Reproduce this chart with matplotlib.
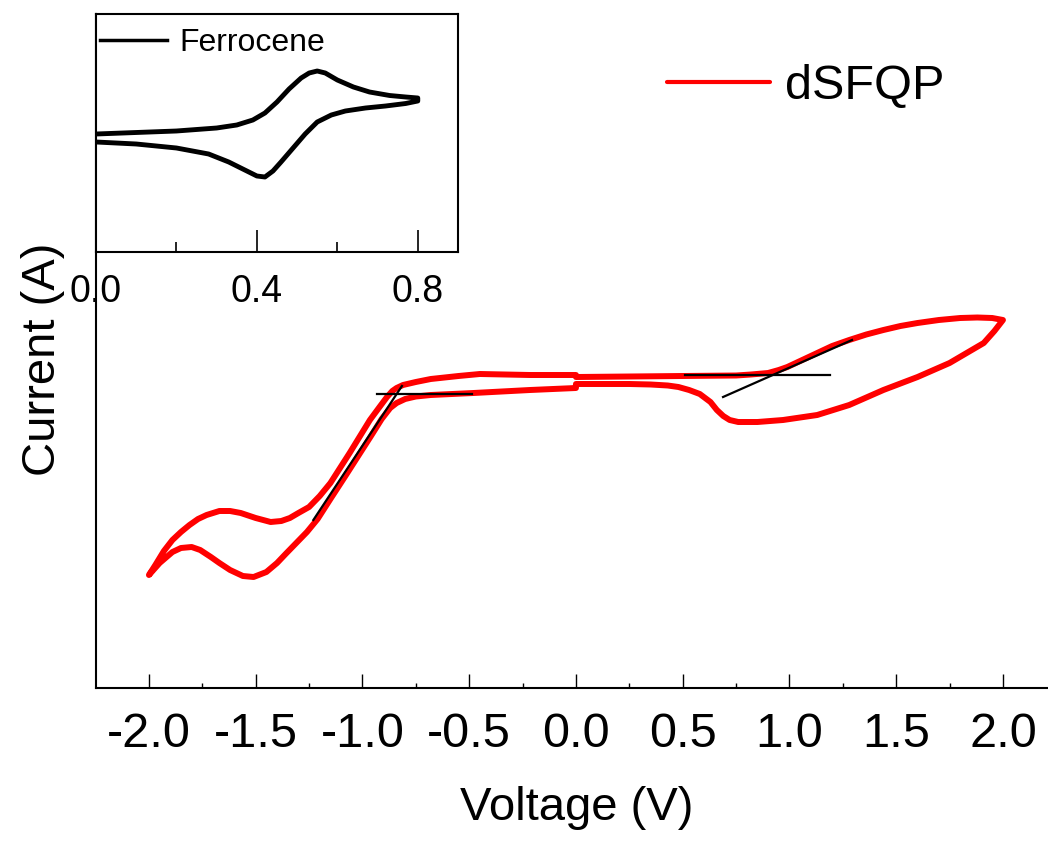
import matplotlib
matplotlib.use("Agg")
import matplotlib.pyplot as plt
from matplotlib.ticker import MultipleLocator

plt.rcParams['font.family'] = ['Liberation Sans', 'DejaVu Sans']

# dSFQP cyclic voltammogram (current in arbitrary units)
# 0 -> +2 V
v_fwd = [0.0, 0.25, 0.5, 0.75, 0.82, 0.9, 0.95, 0.99, 1.05, 1.13, 1.20, 1.28, 1.36, 1.44,
         1.52, 1.60, 1.70, 1.80, 1.88, 1.95, 2.0]
i_fwd = [0.03, 0.035, 0.04, 0.045, 0.055, 0.07, 0.10, 0.13, 0.19, 0.27, 0.34, 0.40, 0.455, 0.50,
         0.54, 0.57, 0.60, 0.62, 0.625, 0.62, 0.60]
# +2 -> 0 V
v_back = [1.96, 1.91, 1.83, 1.75, 1.60, 1.44, 1.28, 1.13, 0.97, 0.85, 0.76, 0.72, 0.69, 0.66,
          0.63, 0.58, 0.53, 0.48, 0.43, 0.35, 0.25, 0.11, 0.0]
i_back = [0.49, 0.37, 0.27, 0.17, 0.03, -0.10, -0.25, -0.35, -0.40, -0.42, -0.42, -0.40, -0.36, -0.30,
          -0.22, -0.14, -0.10, -0.07, -0.055, -0.045, -0.04, -0.04, -0.04]
# 0 -> -2 V
v_neg = [0.0, -0.215, -0.48, -0.68, -0.75, -0.80, -0.84, -0.87, -0.91, -0.96, -1.02, -1.08, -1.15,
         -1.21, -1.26, -1.31, -1.36, -1.40, -1.45, -1.51, -1.56, -1.62, -1.67, -1.71, -1.76, -1.80,
         -1.85, -1.89, -1.95, -2.0]
i_neg = [-0.08, -0.10, -0.13, -0.15, -0.165, -0.19, -0.23, -0.28, -0.39, -0.56, -0.76, -0.96, -1.19,
         -1.39, -1.52, -1.63, -1.74, -1.83, -1.92, -1.97, -1.96, -1.90, -1.83, -1.77, -1.70, -1.67,
         -1.68, -1.72, -1.83, -1.95]
# -2 -> 0 V
v_ret = [-1.97, -1.93, -1.89, -1.85, -1.81, -1.77, -1.73, -1.67, -1.62, -1.57, -1.50, -1.43, -1.38,
         -1.34, -1.30, -1.25, -1.20, -1.15, -1.06, -0.965, -0.92, -0.885, -0.86, -0.84, -0.81, -0.75,
         -0.68, -0.55, -0.45, -0.215, 0.0]
i_ret = [-1.85, -1.71, -1.60, -1.52, -1.45, -1.39, -1.35, -1.31, -1.31, -1.33, -1.38, -1.42, -1.41,
         -1.38, -1.33, -1.27, -1.16, -1.03, -0.73, -0.40, -0.27, -0.17, -0.11, -0.08, -0.05, -0.02,
         0.01, 0.04, 0.06, 0.05, 0.05]

# onset construction lines
red_base_v = [-0.933, -0.487]
red_base_i = [-0.14, -0.14]
red_tan_v = [-1.23, -0.815]
red_tan_i = [-1.40, -0.06]
ox_base_v = [0.51, 1.19]
ox_base_i = [0.05, 0.05]
ox_tan_v = [0.689, 1.293]
ox_tan_i = [-0.17, 0.40]

# ferrocene reference (inset)
fc_v_fwd = [0.0, 0.1, 0.2, 0.3, 0.35, 0.39, 0.42, 0.45, 0.48, 0.51, 0.53, 0.55, 0.57, 0.60,
            0.64, 0.68, 0.73, 0.77, 0.80]
fc_i_fwd = [0.06, 0.075, 0.09, 0.12, 0.15, 0.20, 0.27, 0.38, 0.51, 0.62, 0.67, 0.69, 0.67, 0.60,
            0.53, 0.48, 0.445, 0.43, 0.42]
fc_v_back = [0.80, 0.77, 0.72, 0.67, 0.62, 0.585, 0.55, 0.52, 0.49, 0.46, 0.44, 0.42, 0.40,
             0.37, 0.33, 0.28, 0.2, 0.1, 0.0]
fc_i_back = [0.39, 0.365, 0.34, 0.32, 0.29, 0.25, 0.18, 0.06, -0.08, -0.22, -0.31, -0.37, -0.36,
             -0.30, -0.22, -0.14, -0.08, -0.04, -0.02]

fig = plt.figure(figsize=(10.48, 8.43), dpi=100)
ax = fig.add_axes([96 / 1048, 155 / 843, 952 / 1048, 674 / 843])

v_all = v_fwd + v_back + v_neg + v_ret
i_all = i_fwd + i_back + i_neg + i_ret
ax.plot(v_all, i_all, color='#ff0000', lw=4.3, solid_joinstyle='round',
        solid_capstyle='round', label='dSFQP', zorder=2)
for xs, ys in [(red_base_v, red_base_i), (red_tan_v, red_tan_i),
               (ox_base_v, ox_base_i), (ox_tan_v, ox_tan_i)]:
    ax.plot(xs, ys, color='black', lw=1.6, zorder=3)

ax.set_xlim(-2.248, 2.211)
ax.set_ylim(-3.08, 3.66)
ax.spines['top'].set_visible(False)
ax.spines['right'].set_visible(False)
ax.spines['left'].set_linewidth(1.5)
ax.spines['bottom'].set_linewidth(1.5)
ax.xaxis.set_minor_locator(MultipleLocator(0.25))
ax.set_xticks([-2.0, -1.5, -1.0, -0.5, 0.0, 0.5, 1.0, 1.5, 2.0])
ax.set_xticklabels(['-2.0', '-1.5', '-1.0', '-0.5', '0.0', '0.5', '1.0', '1.5', '2.0'])
ax.tick_params(axis='x', which='major', direction='in', length=10, width=1, labelsize=35, pad=17)
ax.tick_params(axis='x', which='minor', direction='in', length=3.5, width=1)
ax.set_yticks([])
ax.set_xlabel('Voltage (V)', fontsize=34)
ax.set_ylabel('Current (A)', fontsize=34)
ax.xaxis.set_label_coords(0.505, -0.145)
ax.yaxis.set_label_coords(-0.033, 0.488)

leg = ax.legend(loc='center left', bbox_to_anchor=(667 / 1048, 1 - 87 / 843),
                bbox_transform=fig.transFigure, frameon=False, fontsize=35,
                handlelength=2.12, handletextpad=0.31, borderpad=0, borderaxespad=0)
leg.get_lines()[0].set_linewidth(3)

# inset with ferrocene
axin = fig.add_axes([96 / 1048, 591 / 843, 362 / 1048, 238 / 843])
axin.plot(fc_v_fwd + fc_v_back, fc_i_fwd + fc_i_back, color='black', lw=3.5,
          solid_joinstyle='round', label='Ferrocene')
axin.set_xlim(0.0, 0.9)
axin.set_ylim(-1.12, 1.26)
axin.set_yticks([])
axin.set_xticks([0.0, 0.4, 0.8])
axin.set_xticklabels(['0.0', '0.4', '0.8'])
axin.xaxis.set_minor_locator(MultipleLocator(0.2))
axin.tick_params(axis='x', which='major', direction='in', length=16, width=1.2, labelsize=27, pad=16)
axin.tick_params(axis='x', which='minor', direction='in', length=7, width=1.2)
for s in axin.spines.values():
    s.set_linewidth(1.5)
leg2 = axin.legend(loc='center left', bbox_to_anchor=(4 / 362, 1 - 29 / 238), frameon=False,
                   fontsize=23, handlelength=2.1, handletextpad=0.4, borderpad=0, borderaxespad=0)
leg2.get_lines()[0].set_linewidth(2.5)

fig.savefig('out.png', dpi=100)
